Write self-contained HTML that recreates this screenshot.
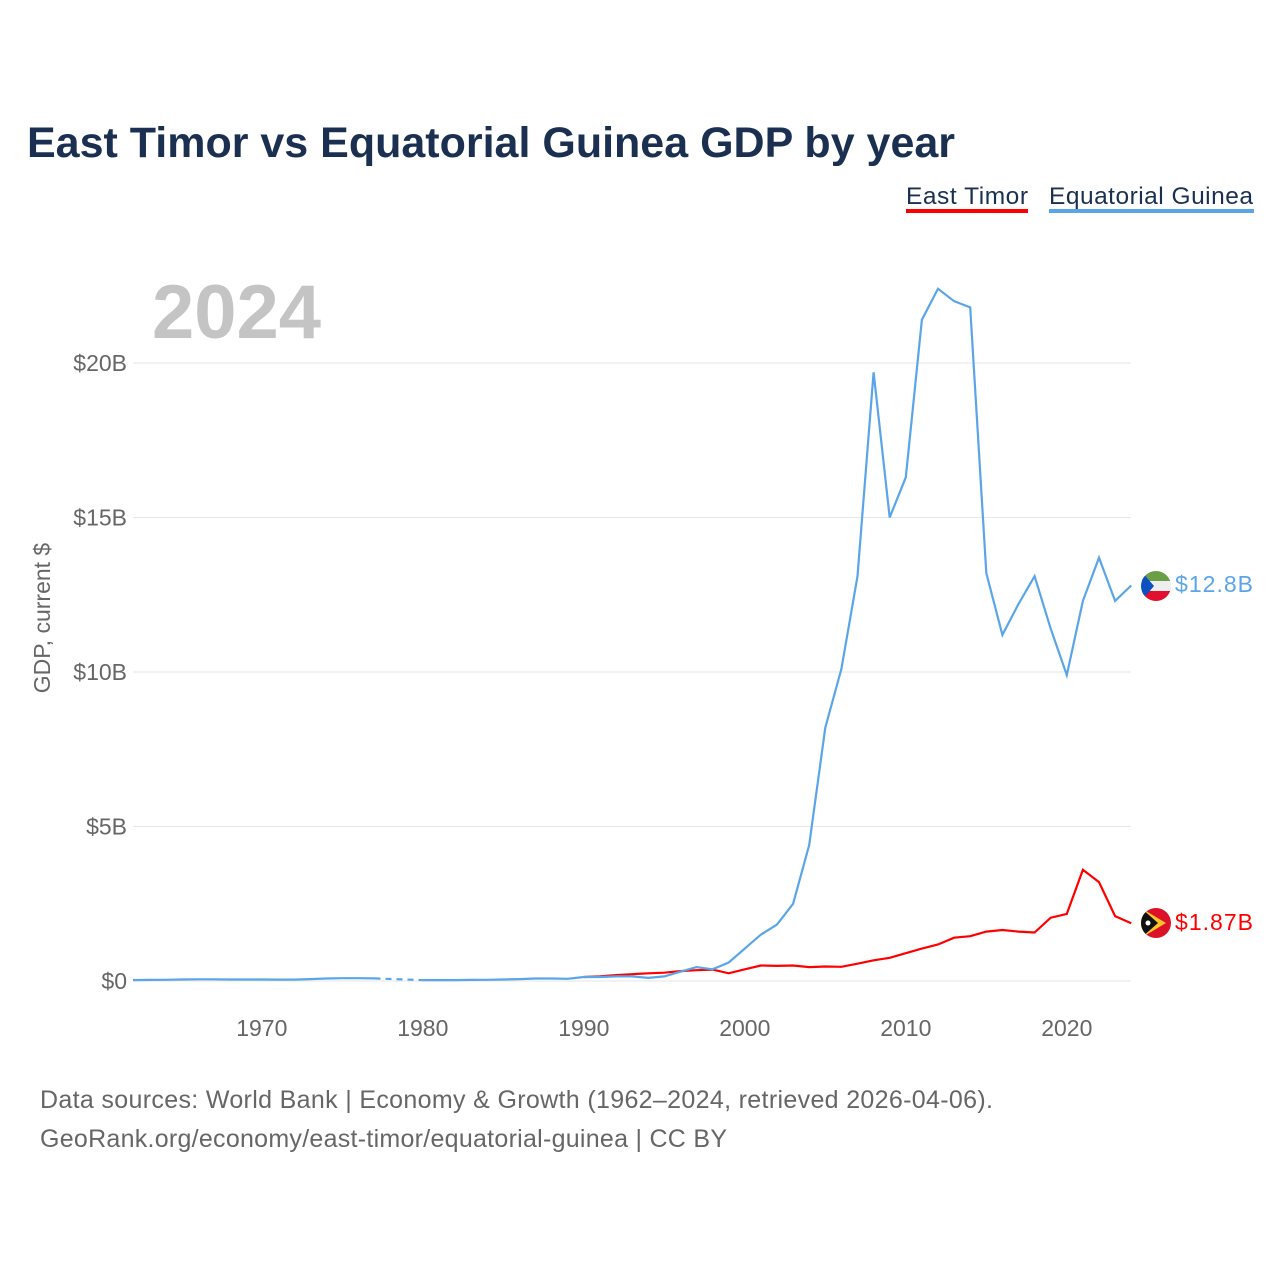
<!DOCTYPE html>
<html><head><meta charset="utf-8"><style>
body{margin:0;background:#fff;font-family:"Liberation Sans",sans-serif}
#wrap{position:relative;width:1280px;height:1280px;overflow:hidden}
</style></head><body><div id="wrap">
<svg id="svg" width="1280" height="1280">
<text x="27" y="157" font-size="43" font-weight="bold" fill="#1b3050">East Timor vs Equatorial Guinea GDP by year</text>
<g><text x="906" y="204" font-size="24.5" fill="#1b3050" textLength="122">East Timor</text><rect x="906" y="209" width="122" height="4" fill="#f00"/></g>
<g><text x="1049" y="204" font-size="24.5" fill="#1b3050" textLength="204">Equatorial Guinea</text><rect x="1049" y="209" width="205" height="4" fill="#5aa5e8"/></g>
<text x="152" y="338" font-size="76" font-weight="bold" fill="#c4c4c4">2024</text>
<text transform="translate(50,618) rotate(-90)" text-anchor="middle" font-size="23" fill="#666">GDP, current $</text>
<g id="grid"></g><g id="lines"></g>
<g>
<clipPath id="c1"><circle cx="1156" cy="586" r="15"/></clipPath>
<g clip-path="url(#c1)"><rect x="1141" y="571" width="30" height="10" fill="#6a9f48"/><rect x="1141" y="581" width="30" height="10" fill="#eee"/><rect x="1141" y="591" width="30" height="10" fill="#e0102e"/><polygon points="1141,571 1154,586 1141,601" fill="#0a50c0"/></g>
<text x="1175" y="592" font-size="23" fill="#5aa5e8" textLength="78">$12.8B</text></g>
<g>
<clipPath id="c2"><circle cx="1156" cy="923" r="15"/></clipPath>
<g clip-path="url(#c2)"><rect x="1141" y="908" width="30" height="30" fill="#dc1028"/><polygon points="1141,908 1166,923 1141,938" fill="#fbc52a"/><polygon points="1141,908 1158,923 1141,938" fill="#111"/><circle cx="1148" cy="923" r="2.5" fill="#fff"/></g>
<text x="1175" y="930" font-size="23" fill="#f00" textLength="78">$1.87B</text></g>
<text x="40" y="1108" font-size="25" fill="#666" textLength="953">Data sources: World Bank | Economy &amp; Growth (1962–2024, retrieved 2026-04-06).</text>
<text x="40" y="1147" font-size="25" fill="#666" textLength="687">GeoRank.org/economy/east-timor/equatorial-guinea | CC BY</text>
</svg></div>
<script>
const yTicks=[0,5,10,15,20];
const yTickLabels=["$0","$5B","$10B","$15B","$20B"];
const xTicks=[1970,1980,1990,2000,2010,2020];
const egYears=[1962,1963,1964,1965,1966,1967,1968,1969,1970,1971,1972,1973,1974,1975,1976,1977,1980,1981,1982,1983,1984,1985,1986,1987,1988,1989,1990,1991,1992,1993,1994,1995,1996,1997,1998,1999,2000,2001,2002,2003,2004,2005,2006,2007,2008,2009,2010,2011,2012,2013,2014,2015,2016,2017,2018,2019,2020,2021,2022,2023,2024];
const egValues=[0.03,0.035,0.04,0.05,0.055,0.055,0.05,0.05,0.05,0.045,0.045,0.06,0.08,0.09,0.09,0.085,0.03,0.03,0.03,0.035,0.04,0.05,0.06,0.08,0.08,0.07,0.13,0.13,0.15,0.15,0.1,0.15,0.3,0.45,0.38,0.6,1.05,1.5,1.83,2.5,4.4,8.2,10.1,13.1,19.7,15.0,16.3,21.4,22.4,22.0,21.8,13.2,11.2,12.2,13.1,11.4,9.9,12.3,13.7,12.3,12.8];
const etYears=[1990,1991,1992,1993,1994,1995,1996,1997,1998,1999,2000,2001,2002,2003,2004,2005,2006,2007,2008,2009,2010,2011,2012,2013,2014,2015,2016,2017,2018,2019,2020,2021,2022,2023,2024];
const etValues=[0.13,0.15,0.19,0.22,0.25,0.27,0.32,0.35,0.37,0.25,0.38,0.5,0.49,0.5,0.45,0.47,0.46,0.56,0.67,0.75,0.9,1.05,1.18,1.4,1.45,1.6,1.65,1.6,1.57,2.05,2.17,3.6,3.2,2.1,1.87];
const x=y=>133+(y-1962)*16.1;
const yv=v=>981-v*30.9;
const NS="http://www.w3.org/2000/svg";
const grid=document.getElementById('grid'),lines=document.getElementById('lines');
function mk(t,a,p){const e=document.createElementNS(NS,t);for(const k in a)e.setAttribute(k,a[k]);p.appendChild(e);return e;}
yTicks.forEach((t,i)=>{
 const l=mk('line',{x1:133,x2:1131,y1:yv(t),y2:yv(t),stroke:'#e6e6e6','stroke-width':1},grid);
 
 
 const tx=mk('text',{x:127,y:yv(t)+8,'text-anchor':'end','font-size':23,fill:'#666'},grid);
 tx.textContent=yTickLabels[i];
 
 
});
xTicks.forEach(t=>{
 const tx=mk('text',{x:x(t),y:1036,'text-anchor':'middle','font-size':23,fill:'#666'},grid);
 tx.textContent=t;
 
 
});
function path(ys,vs){return ys.map((y,i)=>(i?'L':'M')+x(y).toFixed(1)+','+yv(vs[i]).toFixed(1)).join('');}
const i77=egYears.indexOf(1977);
const eg1=mk('path',{d:path(egYears.slice(0,i77+1),egValues.slice(0,i77+1)),fill:'none',stroke:'#5aa5e8','stroke-width':2.2},lines);


const egGap=mk('path',{d:path(egYears.slice(i77,i77+2),egValues.slice(i77,i77+2)),fill:'none',stroke:'#5aa5e8','stroke-width':2.2,'stroke-dasharray':'6,5'},lines);


const et=mk('path',{d:path(etYears,etValues),fill:'none',stroke:'#f00','stroke-width':2.2},lines);


const eg2=mk('path',{d:path(egYears.slice(i77+1),egValues.slice(i77+1)),fill:'none',stroke:'#5aa5e8','stroke-width':2.2},lines);


</script></body></html>
